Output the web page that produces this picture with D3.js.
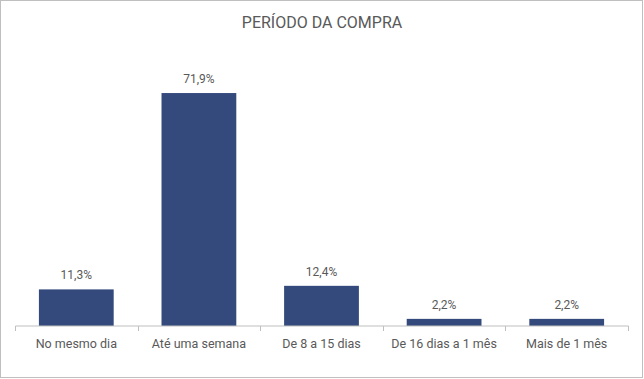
<!DOCTYPE html>
<html><head><meta charset="utf-8">
<script src="https://cdn.jsdelivr.net/npm/d3@7"></script>
<style>body{margin:0;background:#fff}svg{display:block}text{font-family:Roboto,"Liberation Sans",sans-serif}</style>
</head><body><svg id="c" width="644" height="379"></svg>
<script>
const categories = ["No mesmo dia", "Até uma semana", "De 8 a 15 dias", "De 16 dias a 1 mês", "Mais de 1 mês"];
const values = [11.3, 71.9, 12.4, 2.2, 2.2];
const valueLabels = ["11,3%", "71,9%", "12,4%", "2,2%", "2,2%"];
const title = "PERÍODO DA COMPRA";

const svg = d3.select("#c");
svg.append("rect").attr("x",0.5).attr("y",0.5).attr("width",642).attr("height",377)
  .attr("fill","#fff").attr("stroke","#bfbfbf").attr("stroke-width",1);
svg.append("text").attr("x",322).attr("y",28).attr("text-anchor","middle")
  .attr("font-size",16).attr("fill","#595959").text(title);

const x = d3.scaleBand().domain(categories).range([15,628]).paddingInner(0.39).paddingOuter(0.195);
const y = d3.scaleLinear().domain([0,80]).range([326, 326-80*3.24]);

svg.selectAll(".bar").data(values).enter().append("rect")
  .attr("x",(d,i)=>x(categories[i])).attr("width",x.bandwidth())
  .attr("y",d=>y(d)).attr("height",d=>y(0)-y(d)).attr("fill","#354a7c");

svg.selectAll(".vl").data(values).enter().append("text")
  .attr("x",(d,i)=>x(categories[i])+x.bandwidth()/2).attr("y",d=>y(d)-10)
  .attr("text-anchor","middle").attr("font-size",12).attr("fill","#595959")
  .text((d,i)=>valueLabels[i]);

const xb = d3.scaleBand().domain(categories).range([15,628]);
const ax = svg.append("g").attr("transform","translate(0,326)")
  .call(d3.axisBottom(xb).tickSize(0).tickPadding(13));
ax.select(".domain").attr("stroke","#bfbfbf").attr("d","M15.5,0H628.5");
ax.selectAll("text").attr("font-size",12.5).attr("fill","#595959").attr("font-family","Roboto,sans-serif");
const bounds = [15].concat(categories.map(c=>xb(c)+xb.bandwidth()));
svg.selectAll(".tk").data(bounds).enter().append("line")
  .attr("x1",d=>Math.round(d)+0.5).attr("x2",d=>Math.round(d)+0.5)
  .attr("y1",326).attr("y2",331).attr("stroke","#bfbfbf");
</script></body></html>
